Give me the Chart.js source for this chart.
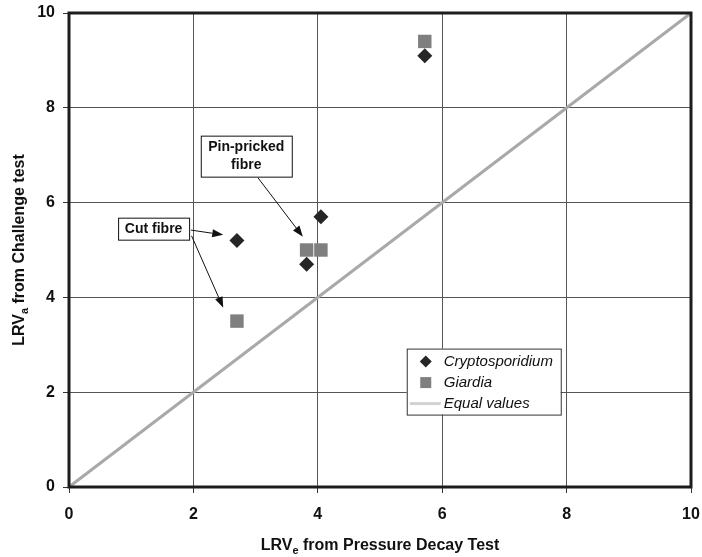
<!DOCTYPE html>
<html>
<head>
<meta charset="utf-8">
<script src="https://cdn.jsdelivr.net/npm/chart.js@4/dist/chart.umd.min.js"></script>
<style>
  body { margin: 0; background: #fff; }
  canvas { display: block; }
</style>
</head>
<body>
<canvas id="lrv-chart" width="702" height="557"></canvas>
<script>
// values
var cryptoX = [2.7, 3.82, 4.05, 5.72];
var cryptoY = [5.2, 4.7, 5.7, 9.1];
var giardiaX = [2.7, 3.82, 4.05, 5.72];
var giardiaY = [3.5, 5.0, 5.0, 9.4];
var equalX = [0, 10];
var equalY = [0, 10];
var seriesNames = ['Cryptosporidium', 'Giardia', 'Equal values'];
var tickValues = [0, 2, 4, 6, 8, 10];

var FONT = "'Liberation Sans', Arial, Helvetica, sans-serif";

function pts(xs, ys) {
    let out = [];
    for (let i = 0; i < xs.length; i++) {
        out.push({x: xs[i], y: ys[i]});
    }
    return out;
};

// callout boxes (data units) and their arrows
var callouts = [
    {lines: ['Cut fibre'], cx: 1.36, cy: 5.45, w: 71, h: 22,
     arrows: [[1.96, 5.42, 2.48, 5.32], [1.97, 5.30, 2.48, 3.78]]},
    {lines: ['Pin-pricked', 'fibre'], cx: 2.85, cy: 6.98, w: 91, h: 41,
     arrows: [[3.04, 6.52, 3.76, 5.28]]}
];

function arrow(ctx, x1, y1, x2, y2) {
    let a = Math.atan2(y2 - y1, x2 - x1);
    let len = 11, half = 4;
    let bx = x2 - Math.cos(a) * len, by = y2 - Math.sin(a) * len;
    ctx.beginPath();
    ctx.moveTo(x1, y1);
    ctx.lineTo(bx, by);
    ctx.stroke();
    ctx.beginPath();
    ctx.moveTo(x2, y2);
    ctx.lineTo(bx + Math.sin(a) * half, by - Math.cos(a) * half);
    ctx.lineTo(bx - Math.sin(a) * half, by + Math.cos(a) * half);
    ctx.closePath();
    ctx.fill();
};

function subText(ctx, parts, x, y) {
    let total = 0;
    parts.forEach(function (p) {
        ctx.font = p.sub ? 'bold 11px ' + FONT : 'bold 16px ' + FONT;
        p.w = ctx.measureText(p.t).width;
        total += p.w;
    });
    let cx = x - total / 2;
    parts.forEach(function (p) {
        ctx.font = p.sub ? 'bold 11px ' + FONT : 'bold 16px ' + FONT;
        ctx.fillText(p.t, cx, p.sub ? y + 4 : y);
        cx += p.w;
    });
};

function noPad(s) {
    s.paddingLeft = 0;
    s.paddingRight = 0;
    s.paddingTop = 0;
    s.paddingBottom = 0;
};

var extras = {
    id: 'extras',
    afterDraw: function (chart) {
        const ctx = chart.ctx;
        const xs = chart.scales.x, ys = chart.scales.y;
        const area = chart.chartArea;

        ctx.save();
        // frame
        ctx.strokeStyle = '#1c1c1c';
        ctx.lineWidth = 3;
        ctx.strokeRect(area.left, area.top, area.right - area.left, area.bottom - area.top);

        // callouts
        ctx.lineWidth = 1;
        ctx.strokeStyle = '#111';
        ctx.fillStyle = '#111';
        callouts.forEach(function (c) {
            c.arrows.forEach(function (a) {
                arrow(ctx, xs.getPixelForValue(a[0]), ys.getPixelForValue(a[1]),
                      xs.getPixelForValue(a[2]), ys.getPixelForValue(a[3]));
            });
            let px = xs.getPixelForValue(c.cx), py = ys.getPixelForValue(c.cy);
            ctx.fillStyle = '#fff';
            ctx.fillRect(px - c.w / 2, py - c.h / 2, c.w, c.h);
            ctx.strokeRect(px - c.w / 2 + 0.5, py - c.h / 2 + 0.5, c.w, c.h);
            ctx.fillStyle = '#111';
            ctx.font = 'bold 14px ' + FONT;
            ctx.textAlign = 'center';
            ctx.textBaseline = 'middle';
            let lh = 18, y0 = py - (c.lines.length - 1) * lh / 2;
            c.lines.forEach(function (t, i) {
                ctx.fillText(t, px, y0 + i * lh);
            });
        });

        // legend
        let lx = xs.getPixelForValue(5.43), ly = ys.getPixelForValue(2.92);
        let lw = 154, lh = 66;
        ctx.fillStyle = '#fff';
        ctx.fillRect(lx, ly, lw, lh);
        ctx.strokeStyle = '#333';
        ctx.strokeRect(lx + 0.5, ly + 0.5, lw, lh);
        chart.data.datasets.forEach(function (ds, i) {
            let ry = ly + 13 + i * 21;
            let sx = lx + 19;
            if (i === 0) {
                ctx.fillStyle = ds.backgroundColor;
                ctx.beginPath();
                ctx.moveTo(sx - 6, ry); ctx.lineTo(sx, ry - 6);
                ctx.lineTo(sx + 6, ry); ctx.lineTo(sx, ry + 6);
                ctx.closePath();
                ctx.fill();
            } else if (i === 1) {
                ctx.fillStyle = ds.backgroundColor;
                ctx.fillRect(sx - 5.5, ry - 5.5, 11, 11);
            } else {
                ctx.strokeStyle = '#d2d2d2';
                ctx.lineWidth = 3;
                ctx.beginPath();
                ctx.moveTo(lx + 3, ry); ctx.lineTo(lx + 34, ry);
                ctx.stroke();
            }
            ctx.fillStyle = '#111';
            ctx.font = 'italic 15px ' + FONT;
            ctx.textAlign = 'left';
            ctx.textBaseline = 'middle';
            ctx.fillText(ds.label, lx + 37, ry);
        });

        // axis titles with subscripts
        ctx.fillStyle = '#111';
        ctx.textAlign = 'left';
        ctx.textBaseline = 'alphabetic';
        subText(ctx, [{t: 'LRV'}, {t: 'e', sub: true}, {t: ' from Pressure Decay Test'}],
                (area.left + area.right) / 2, 550);
        ctx.translate(24, (area.top + area.bottom) / 2);
        ctx.rotate(-Math.PI / 2);
        subText(ctx, [{t: 'LRV'}, {t: 'a', sub: true}, {t: ' from Challenge test'}], 0, 0);
        ctx.restore();
    }
};

const ctx = document.getElementById('lrv-chart');

new Chart(ctx, {
    type: 'scatter',
    data: {
        datasets: [{
            label: seriesNames[0],
            data: pts(cryptoX, cryptoY),
            pointStyle: 'rectRot',
            pointRadius: 7.5,
            pointHoverRadius: 7.5,
            backgroundColor: '#262626',
            borderWidth: 0,
            order: 2
        }, {
            label: seriesNames[1],
            data: pts(giardiaX, giardiaY),
            pointStyle: 'rect',
            pointRadius: 9.5,
            pointHoverRadius: 9.5,
            backgroundColor: '#7f7f7f',
            borderWidth: 0,
            order: 3
        }, {
            label: seriesNames[2],
            type: 'line',
            data: pts(equalX, equalY),
            borderColor: '#a9a9a9',
            backgroundColor: '#a9a9a9',
            borderWidth: 3,
            pointRadius: 0,
            showLine: true,
            order: 1
        }]
    },
    options: {
        responsive: false,
        animation: false,
        events: [],
        layout: {
            padding: {top: 13, right: 11, left: 0, bottom: 0}
        },
        scales: {
            x: {
                type: 'linear',
                min: 0,
                max: 10,
                afterBuildTicks: function (s) {
                    s.ticks = tickValues.map(function (v) { return {value: v}; });
                },
                afterFit: function (s) { s.height = 70; noPad(s); },
                ticks: {
                    font: {family: FONT, size: 16, weight: 'bold'},
                    color: '#111',
                    padding: 12,
                    maxRotation: 0
                },
                grid: {color: '#555', lineWidth: 1, tickLength: 6, tickColor: '#333'},
                border: {display: false}
            },
            y: {
                type: 'linear',
                min: 0,
                max: 10,
                afterBuildTicks: function (s) {
                    s.ticks = tickValues.map(function (v) { return {value: v}; });
                },
                afterFit: function (s) { s.width = 69; noPad(s); },
                ticks: {
                    font: {family: FONT, size: 16, weight: 'bold'},
                    color: '#111',
                    padding: 8
                },
                grid: {color: '#555', lineWidth: 1, tickLength: 6, tickColor: '#333'},
                border: {display: false}
            }
        },
        plugins: {
            legend: {display: false},
            tooltip: {enabled: false}
        }
    },
    plugins: [extras]
});
</script>
</body>
</html>
